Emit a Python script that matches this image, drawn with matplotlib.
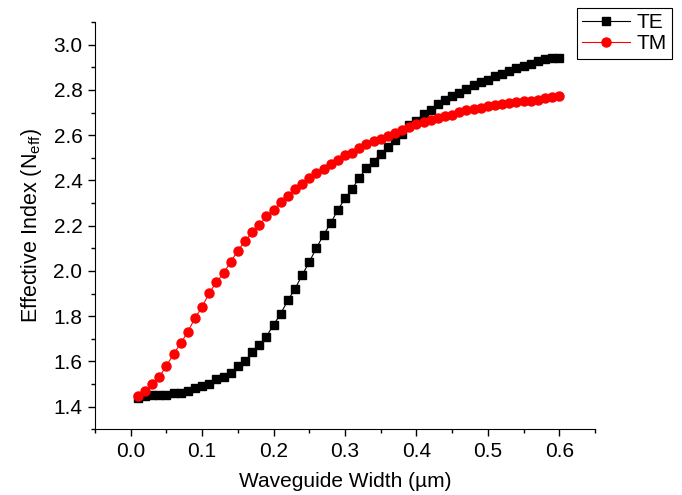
import numpy as np
import matplotlib
matplotlib.use("Agg")
from matplotlib import pyplot as plt
from matplotlib.ticker import MultipleLocator

plt.rcParams['font.family'] = ['Liberation Sans', 'DejaVu Sans']
plt.rcParams['mathtext.fontset'] = 'custom'
plt.rcParams['mathtext.rm'] = 'Liberation Sans'

# waveguide width (um), 0.01 .. 0.60
width = np.round(np.arange(1, 61) * 0.01, 2)

neff_te = [
    1.440, 1.449, 1.452, 1.452, 1.452, 1.459, 1.459, 1.471, 1.481, 1.492,
    1.500, 1.521, 1.533, 1.550, 1.580, 1.600, 1.640, 1.673, 1.710, 1.762,
    1.811, 1.870, 1.921, 1.981, 2.040, 2.101, 2.160, 2.211, 2.270, 2.320,
    2.362, 2.412, 2.453, 2.483, 2.518, 2.548, 2.580, 2.607, 2.647, 2.664,
    2.695, 2.713, 2.738, 2.757, 2.775, 2.787, 2.804, 2.823, 2.834, 2.843,
    2.860, 2.872, 2.883, 2.897, 2.905, 2.915, 2.927, 2.936, 2.941, 2.942,
]

neff_tm = [
    1.449, 1.469, 1.500, 1.531, 1.581, 1.632, 1.680, 1.731, 1.792, 1.841,
    1.903, 1.950, 1.990, 2.040, 2.090, 2.131, 2.170, 2.201, 2.241, 2.270,
    2.303, 2.332, 2.362, 2.384, 2.411, 2.433, 2.450, 2.473, 2.492, 2.511,
    2.521, 2.543, 2.560, 2.574, 2.583, 2.598, 2.610, 2.624, 2.635, 2.651,
    2.660, 2.669, 2.676, 2.683, 2.691, 2.703, 2.713, 2.716, 2.720, 2.727,
    2.732, 2.739, 2.742, 2.747, 2.750, 2.753, 2.757, 2.762, 2.769, 2.772,
]

fig = plt.figure(figsize=(6.82, 4.95), dpi=100)
ax = fig.add_axes([95 / 682, 1 - 429.3 / 495, 500 / 682, 407.3 / 495])

ax.plot(width, neff_te, color='black', marker='s', markersize=5.2, lw=0.8, label='TE')
ax.plot(width, neff_tm, color='red', marker='o', markersize=6.5, lw=0.8, label='TM')

ax.set_xlim(-0.05, 0.65)
ax.set_ylim(1.3, 3.1)
ax.xaxis.set_major_locator(MultipleLocator(0.1))
ax.xaxis.set_minor_locator(MultipleLocator(0.05))
ax.yaxis.set_major_locator(MultipleLocator(0.2))
ax.yaxis.set_minor_locator(MultipleLocator(0.1))
ax.tick_params(which='major', direction='out', length=5, width=1, labelsize=15, pad=4)
ax.tick_params(which='minor', direction='out', length=3, width=1)

for side in ['top', 'right']:
    ax.spines[side].set_visible(False)

ax.set_xlabel('Waveguide Width (\u00b5m)', fontsize=15, labelpad=8)
ax.set_ylabel(r'Effective Index (N$_{\mathrm{eff}}$)', fontsize=15.5, labelpad=7)

leg = fig.legend(loc='upper left', bbox_to_anchor=(577 / 682, 1 - 8 / 495),
                 borderaxespad=0, fontsize=15, fancybox=False, edgecolor='black',
                 framealpha=1, handlelength=2.3, borderpad=0.25, labelspacing=0.1,
                 handletextpad=0.3)
leg.get_frame().set_linewidth(0.8)

fig.savefig('out.png', dpi=100)
